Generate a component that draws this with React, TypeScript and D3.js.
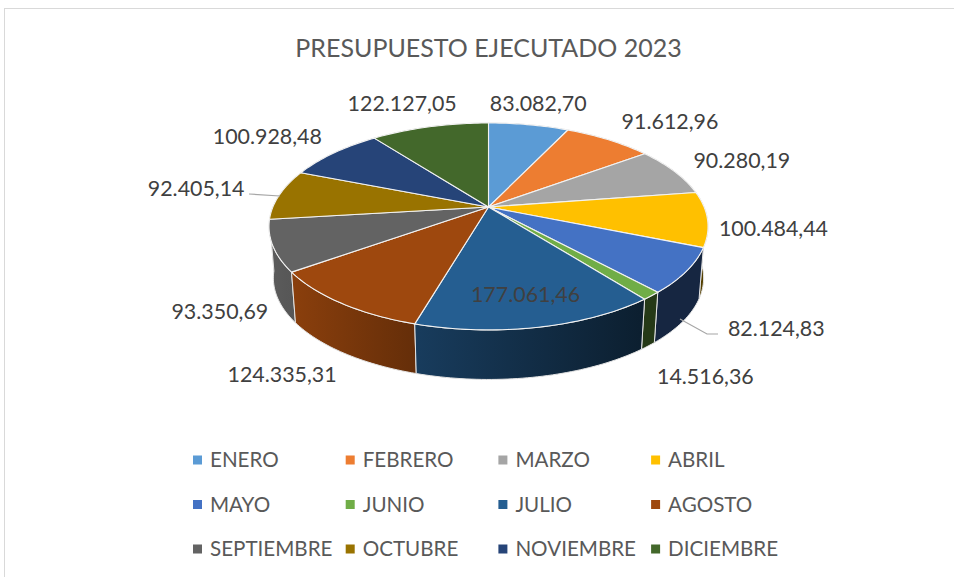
import React from "react";
import * as d3 from "d3";

const months = ["ENERO","FEBRERO","MARZO","ABRIL","MAYO","JUNIO","JULIO","AGOSTO","SEPTIEMBRE","OCTUBRE","NOVIEMBRE","DICIEMBRE"];
const budget = [83082.70,91612.96,90280.19,100484.44,82124.83,14516.36,177061.46,124335.31,93350.69,92405.14,100928.48,122127.05];
const topColors = ["#5B9BD5","#ED7D31","#A5A5A5","#FFC000","#4472C4","#70AD47","#255E91","#9E480E","#636363","#997300","#264478","#43682B"];
const title = "PRESUPUESTO EJECUTADO 2023";
// label nudges relative to the slice's rim point at mid-angle
const labelNudge: [number, number][] = [
  [9.5,-21],[61.5,-18],[67.5,-10],[66,10],[89.5,58],[54,81],[-13,-32],[-59,72],[-53,66],[-83.5,-6],[-66.5,-16],[-27.5,-23],
];
// wall shading: brightness along the x-axis of the pie
const shadeX = [270, 415, 640, 708];
const shadeK = [0.92, 0.64, 0.33, 0.33];

const width = 954, height = 577;
const cx = 488.5, apexY = 207;
const rxP = 215.6, ryP = 99.8, persp = -0.188;
const bottomScale = 0.98, bottomY = 259;

const fmt = (v: number) => {
  const [i, d] = v.toFixed(2).split(".");
  return i.replace(/\B(?=(\d{3})+$)/g, ".") + "," + d;
};

function proj(theta: number, level: "top" | "bottom" = "top"): [number, number] {
  const u = Math.sin(theta), v = -Math.cos(theta), w = 1 + persp * v;
  const s = level === "top" ? 1 : bottomScale;
  const y0 = level === "top" ? apexY : bottomY;
  return [cx + (s * rxP * u) / w, y0 + (s * ryP * v) / w];
}

function arcPoints(a0: number, a1: number, level: "top" | "bottom") {
  const n = Math.max(2, Math.ceil((a1 - a0) / 0.02));
  return d3.range(n + 1).map((i) => proj(a0 + ((a1 - a0) * i) / n, level));
}

const line = d3.line();
const scaleColor = (hex: string, k: number) => {
  const c = d3.rgb(hex);
  return d3.rgb(c.r * k, c.g * k, c.b * k).formatHex();
};

export default function App() {
  const slices = d3.pie<number>().sort(null).value((d) => d)(budget);
  const wallOrder = slices
    .map((s, i) => ({ s, i, depth: -Math.cos((s.startAngle + s.endAngle) / 2) }))
    .sort((a, b) => a.depth - b.depth);
  const x0 = shadeX[0], x1 = shadeX[shadeX.length - 1];
  return (
    <svg width={width} height={height} style={{ position: "absolute", left: 0, top: 0 }} fontFamily="Lato, Carlito, sans-serif">
      <defs>
        {slices.map((s, i) => (
          <linearGradient key={i} id={`wall${i}`} gradientUnits="userSpaceOnUse" x1={x0} x2={x1} y1="0" y2="0">
            {shadeX.map((x, j) => (
              <stop key={j} offset={(x - x0) / (x1 - x0)} stopColor={scaleColor(topColors[i], shadeK[j])} />
            ))}
          </linearGradient>
        ))}
      </defs>
      <rect x={4.5} y={8.5} width={width + 10} height={height + 10} fill="#fff" stroke="#D9D9D9" />
      <text x={488.5} y={57} textAnchor="middle" fontSize={25} fill="#595959">{title}</text>

      {wallOrder.map(({ s, i }) => {
        const pts = [...arcPoints(s.startAngle, s.endAngle, "top"), ...arcPoints(s.startAngle, s.endAngle, "bottom").reverse()];
        return <path key={i} d={line(pts as [number, number][]) + "Z"} fill={`url(#wall${i})`} stroke="#E4E4E4" strokeWidth={1} strokeLinejoin="round" />;
      })}
      {slices.map((s, i) => {
        const pts = [[cx, apexY], ...arcPoints(s.startAngle, s.endAngle, "top")];
        return <path key={i} d={line(pts as [number, number][]) + "Z"} fill={topColors[i]} stroke="#F2F2F2" strokeWidth={1.1} strokeLinejoin="round" />;
      })}

      <polyline points="249,194 280,196" fill="none" stroke="#A6A6A6" strokeWidth={1.2} />
      <polyline points="680,319 707,334 718,334" fill="none" stroke="#A6A6A6" strokeWidth={1.2} />

      {slices.map((s, i) => {
        const [x, y] = proj((s.startAngle + s.endAngle) / 2);
        return (
          <text key={i} x={x + labelNudge[i][0]} y={y + labelNudge[i][1] + 7} textAnchor="middle" fontSize={21.4} fill="#404040">
            {fmt(budget[i])}
          </text>
        );
      })}

      {months.map((m, i) => {
        const col = i % 4, row = Math.floor(i / 4);
        const x = 193 + col * 152.7, y = 460 + row * 44.5;
        return (
          <g key={m}>
            <rect x={x} y={y - 4.5} width={9} height={9} fill={topColors[i]} />
            <text x={x + 17} y={y + 7} fontSize={20.6} fill="#595959">{m}</text>
          </g>
        );
      })}
    </svg>
  );
}
